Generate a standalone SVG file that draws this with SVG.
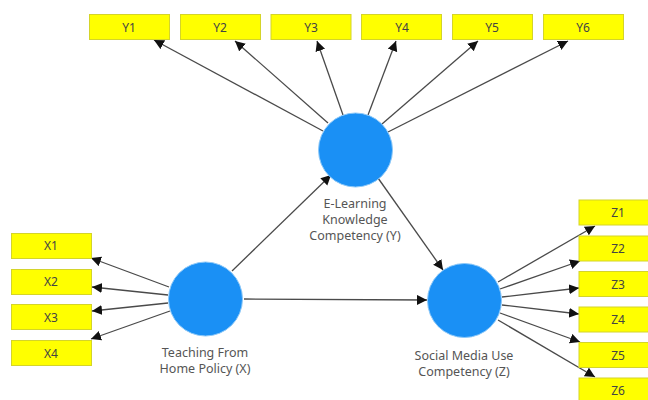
<svg xmlns="http://www.w3.org/2000/svg" width="648" height="400" viewBox="0 0 648 400">
<style>
.box{fill:#ffff00;stroke:#d4d42a;stroke-width:1}
.c{fill:#1a90f5;stroke:#8cc8f8;stroke-width:1}
text{font-family:"Noto Sans","Open Sans",sans-serif;font-size:12px;fill:#444;text-anchor:middle}
.l{fill:#555;font-size:12.5px}
.e{fill:none;stroke:#4a4a4a;stroke-width:1.3;marker-end:url(#a)}
</style>
<defs><marker id="a" markerUnits="userSpaceOnUse" markerWidth="11" markerHeight="11" refX="10" refY="5" orient="auto"><path d="M0 0L10 5L0 10z" fill="#111"/></marker></defs>
<rect width="648" height="400" fill="#fff"/>
<g id="connectors">
<path class="e" d="M323 131L154 40"/>
<path class="e" d="M328 123L235 41"/>
<path class="e" d="M343 115L317 41"/>
<path class="e" d="M368 115L396 41"/>
<path class="e" d="M382 124L478 41"/>
<path class="e" d="M388 132L568 41"/>
<path class="e" d="M232 271L331 175"/>
<path class="e" d="M378 178L443 270"/>
<path class="e" d="M244 299L427 300"/>
<path class="e" d="M169 287L91 258"/>
<path class="e" d="M168 295L92 287"/>
<path class="e" d="M168 303L92 311"/>
<path class="e" d="M170 311L91 339"/>
<path class="e" d="M498 282L595 226"/>
<path class="e" d="M500 289L580 261"/>
<path class="e" d="M502 297L579 288"/>
<path class="e" d="M502 305L579 314"/>
<path class="e" d="M500 313L580 342"/>
<path class="e" d="M498 320L595 377"/>
</g>
<g id="Y1"><rect class="box" x="89.500" y="14.500" width="80" height="25"/><text x="129" y="32">Y1</text></g>
<g id="Y2"><rect class="box" x="180.500" y="14.500" width="80" height="25"/><text x="220" y="32">Y2</text></g>
<g id="Y3"><rect class="box" x="271" y="14.500" width="80" height="25"/><text x="311" y="32">Y3</text></g>
<g id="Y4"><rect class="box" x="361.500" y="14.500" width="80" height="25"/><text x="402" y="32">Y4</text></g>
<g id="Y5"><rect class="box" x="452.500" y="14.500" width="80" height="25"/><text x="492" y="32">Y5</text></g>
<g id="Y6"><rect class="box" x="543.500" y="14.500" width="80" height="25"/><text x="583" y="32">Y6</text></g>
<g id="X1"><rect class="box" x="11.500" y="233.500" width="80" height="25"/><text x="51" y="250">X1</text></g>
<g id="X2"><rect class="box" x="11.500" y="269.500" width="80" height="25"/><text x="51" y="286">X2</text></g>
<g id="X3"><rect class="box" x="11.500" y="304.500" width="80" height="25"/><text x="51" y="322">X3</text></g>
<g id="X4"><rect class="box" x="11.500" y="340.500" width="80" height="25"/><text x="51" y="358">X4</text></g>
<g id="Z1"><rect class="box" x="579" y="200" width="80" height="25"/><text x="618" y="217">Z1</text></g>
<g id="Z2"><rect class="box" x="579" y="236" width="80" height="25"/><text x="618" y="253">Z2</text></g>
<g id="Z3"><rect class="box" x="579" y="271.500" width="80" height="25"/><text x="618" y="289">Z3</text></g>
<g id="Z4"><rect class="box" x="579" y="307" width="80" height="25"/><text x="618" y="324">Z4</text></g>
<g id="Z5"><rect class="box" x="579" y="342.500" width="80" height="25"/><text x="618" y="360">Z5</text></g>
<g id="Z6"><rect class="box" x="579" y="378" width="80" height="25"/><text x="618" y="395">Z6</text></g>
<g id="LY"><circle class="c" cx="355.500" cy="150" r="37"/><text class="l" x="355" y="208">E-Learning</text><text class="l" x="355" y="224">Knowledge</text><text class="l" x="355" y="240">Competency (Y)</text></g>
<g id="LX"><circle class="c" cx="205.500" cy="299" r="37"/><text class="l" x="205" y="357">Teaching From</text><text class="l" x="205" y="373">Home Policy (X)</text></g>
<g id="LZ"><circle class="c" cx="464.500" cy="300.500" r="37"/><text class="l" x="464" y="360">Social Media Use</text><text class="l" x="464" y="376">Competency (Z)</text></g>
</svg>
